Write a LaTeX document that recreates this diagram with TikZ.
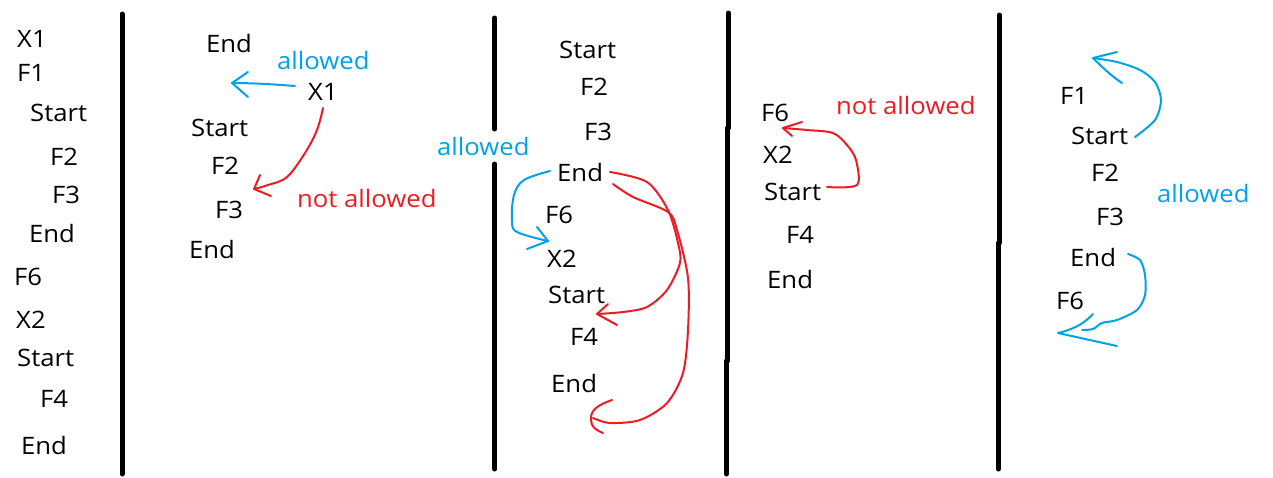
\documentclass[tikz,border=0pt]{standalone}
\usepackage{fontspec}
\setmainfont{Open Sans}[FakeStretch=1.07]
\definecolor{pblue}{RGB}{0,162,232}
\definecolor{pred}{RGB}{237,28,36}
\begin{document}
\begin{tikzpicture}[x=1pt,y=-1pt,
  txt/.style={anchor=base west, inner sep=0pt, font=\fontsize{24}{28}\selectfont},
  bluetxt/.style={txt, text=pblue},
  redtxt/.style={txt, text=pred},
  divider/.style={line width=5pt, line cap=round, black},
  bluepen/.style={line width=2pt, pblue, line cap=round, line join=round},
  redpen/.style={line width=2pt, pred, line cap=round, line join=round}]
\useasboundingbox[fill=white] (0,0) rectangle (1273,477);

% dividers
\draw[divider] (122,14) -- (122,474);
\draw[divider] (494.7,18) -- (494.7,129);
\draw[divider] (494.7,164) -- (494.7,469);
\draw[divider] (728.3,13) -- (728.3,128) (727.3,128) -- (727.3,361) (726.3,361) -- (726.3,474);
\draw[divider] (999.3,15) -- (999.3,243) (998.3,243) -- (998.3,469);

% column 1
\node[txt] (a1) at (17,47) {X1};
\node[txt] (a2) at (17,81) {F1};
\node[txt] (a3) at (30,121) {Start};
\node[txt] (a4) at (50,165) {F2};
\node[txt] (a5) at (52,203) {F3};
\node[txt] (a6) at (29,242) {End};
\node[txt] (a7) at (14,285) {F6};
\node[txt] (a8) at (16,328) {X2};
\node[txt] (a9) at (17,366) {Start};
\node[txt] (a10) at (40,407) {F4};
\node[txt] (a11) at (21,454) {End};

% column 2
\node[txt] (b1) at (206,52) {End};
\node[bluetxt] (bl) at (277,69) {allowed};
\node[txt] (b2) at (308,100) {X1};
\node[txt] (b3) at (191,136) {Start};
\node[txt] (b4) at (211,174) {F2};
\node[txt] (b5) at (215,218) {F3};
\node[txt] (b6) at (189,258) {End};
\node[redtxt] (bn) at (297,207) {not allowed};

% column 3
\node[txt] (c1) at (559,58) {Start};
\node[txt] (c2) at (580,95) {F2};
\node[txt] (c3) at (584,140) {F3};
\node[bluetxt] (cl) at (437,155) {allowed};
\node[txt] (c4) at (557,181) {End};
\node[txt] (c5) at (545,223) {F6};
\node[txt] (c6) at (547,267) {X2};
\node[txt] (c7) at (548,303) {Start};
\node[txt] (c8) at (570,345) {F4};
\node[txt] (c9) at (551,392) {End};

% column 4
\node[txt] (d1) at (761,121) {F6};
\node[redtxt] (dn) at (836,114) {not allowed};
\node[txt] (d2) at (763,163) {X2};
\node[txt] (d3) at (764,200) {Start};
\node[txt] (d4) at (786,243) {F4};
\node[txt] (d5) at (767,288) {End};

% column 5
\node[txt] (e1) at (1060,104) {F1};
\node[txt] (e2) at (1071,144) {Start};
\node[txt] (e3) at (1091,181) {F2};
\node[txt] (e4) at (1096,225) {F3};
\node[txt] (e5) at (1070,266) {End};
\node[txt] (e6) at (1056,309) {F6};
\node[bluetxt] (el) at (1157,202) {allowed};

% connector end points
\coordinate (p1s) at (295,86);
\coordinate (p1t) at (232,83);
\coordinate (p2s) at (323,108);
\coordinate (p2t) at (254,189);
\coordinate (p3s) at (550,171);
\coordinate (p3t) at (548,241);
\coordinate (p4s) at (610,172);
\coordinate (p4t) at (597,314);
\coordinate (p5s) at (613,184);
\coordinate (p5t) at (593,418);
\coordinate (p6s) at (827,187);
\coordinate (p6t) at (783,128);
\coordinate (p7s) at (1135,137);
\coordinate (p7t) at (1093,58);
\coordinate (p8s) at (1128,254);
\coordinate (p8t) at (1058,333);

% column 2 arrows
\draw[bluepen] (p1s) .. controls (270,84) and (250,83) .. (p1t);
\draw[bluepen] (248,72) -- (p1t) -- (248,97);
\draw[redpen] plot[smooth, tension=0.6] coordinates {(p2s) (317,130) (305,153) (287,177) (268,185) (p2t)};
\draw[redpen] (260,175) -- (p2t) -- (271,196);

% column 3 arrows
\draw[bluepen] plot[smooth, tension=0.6] coordinates {(p3s) (524,180) (514,195) (512,220) (517,232) (p3t)};
\draw[bluepen] (537,227) -- (p3t) -- (527,249);
\draw[redpen] plot[smooth, tension=0.5] coordinates {(p4s) (647,182) (668,210) (678,243) (680,263) (667,290) (647,307) (623,312) (p4t)};
\draw[redpen] (608,304) -- (p4t) -- (617,325);
\draw[redpen] plot[smooth, tension=0.5] coordinates {(p5s) (633,197) (668,212) (677,230) (688,278) (688,330) (683,373) (667,403) (640,420) (610,423) (p5t)};
\draw[redpen] (612,400) .. controls (598,405) and (590,410) .. (591,420) .. controls (591,427) and (596,430) .. (603,433);

% column 4 arrow
\draw[redpen] plot[smooth, tension=0.5] coordinates {(p6s) (857,185) (856,160) (847,145) (833,133) (807,130) (p6t)};
\draw[redpen] (802,122) -- (p6t) -- (792,136);

% column 5 arrows
\draw[bluepen] plot[smooth, tension=0.5] coordinates {(p7s) (1155,120) (1161,100) (1155,82) (1140,70) (1117,62) (p7t)};
\draw[bluepen] (1117,52) -- (p7t) .. controls (1100,65) and (1110,75) .. (1122,83);
\draw[bluepen] plot[smooth, tension=0.5] coordinates {(p8s) (1140,260) (1145,275) (1145,295) (1137,310) (1117,320) (1102,323) (1093,329) (1082,330)};
\draw[bluepen] (1093,314) .. controls (1085,322) and (1078,328) .. (p8t) -- (1117,346);
\end{tikzpicture}
\end{document}
